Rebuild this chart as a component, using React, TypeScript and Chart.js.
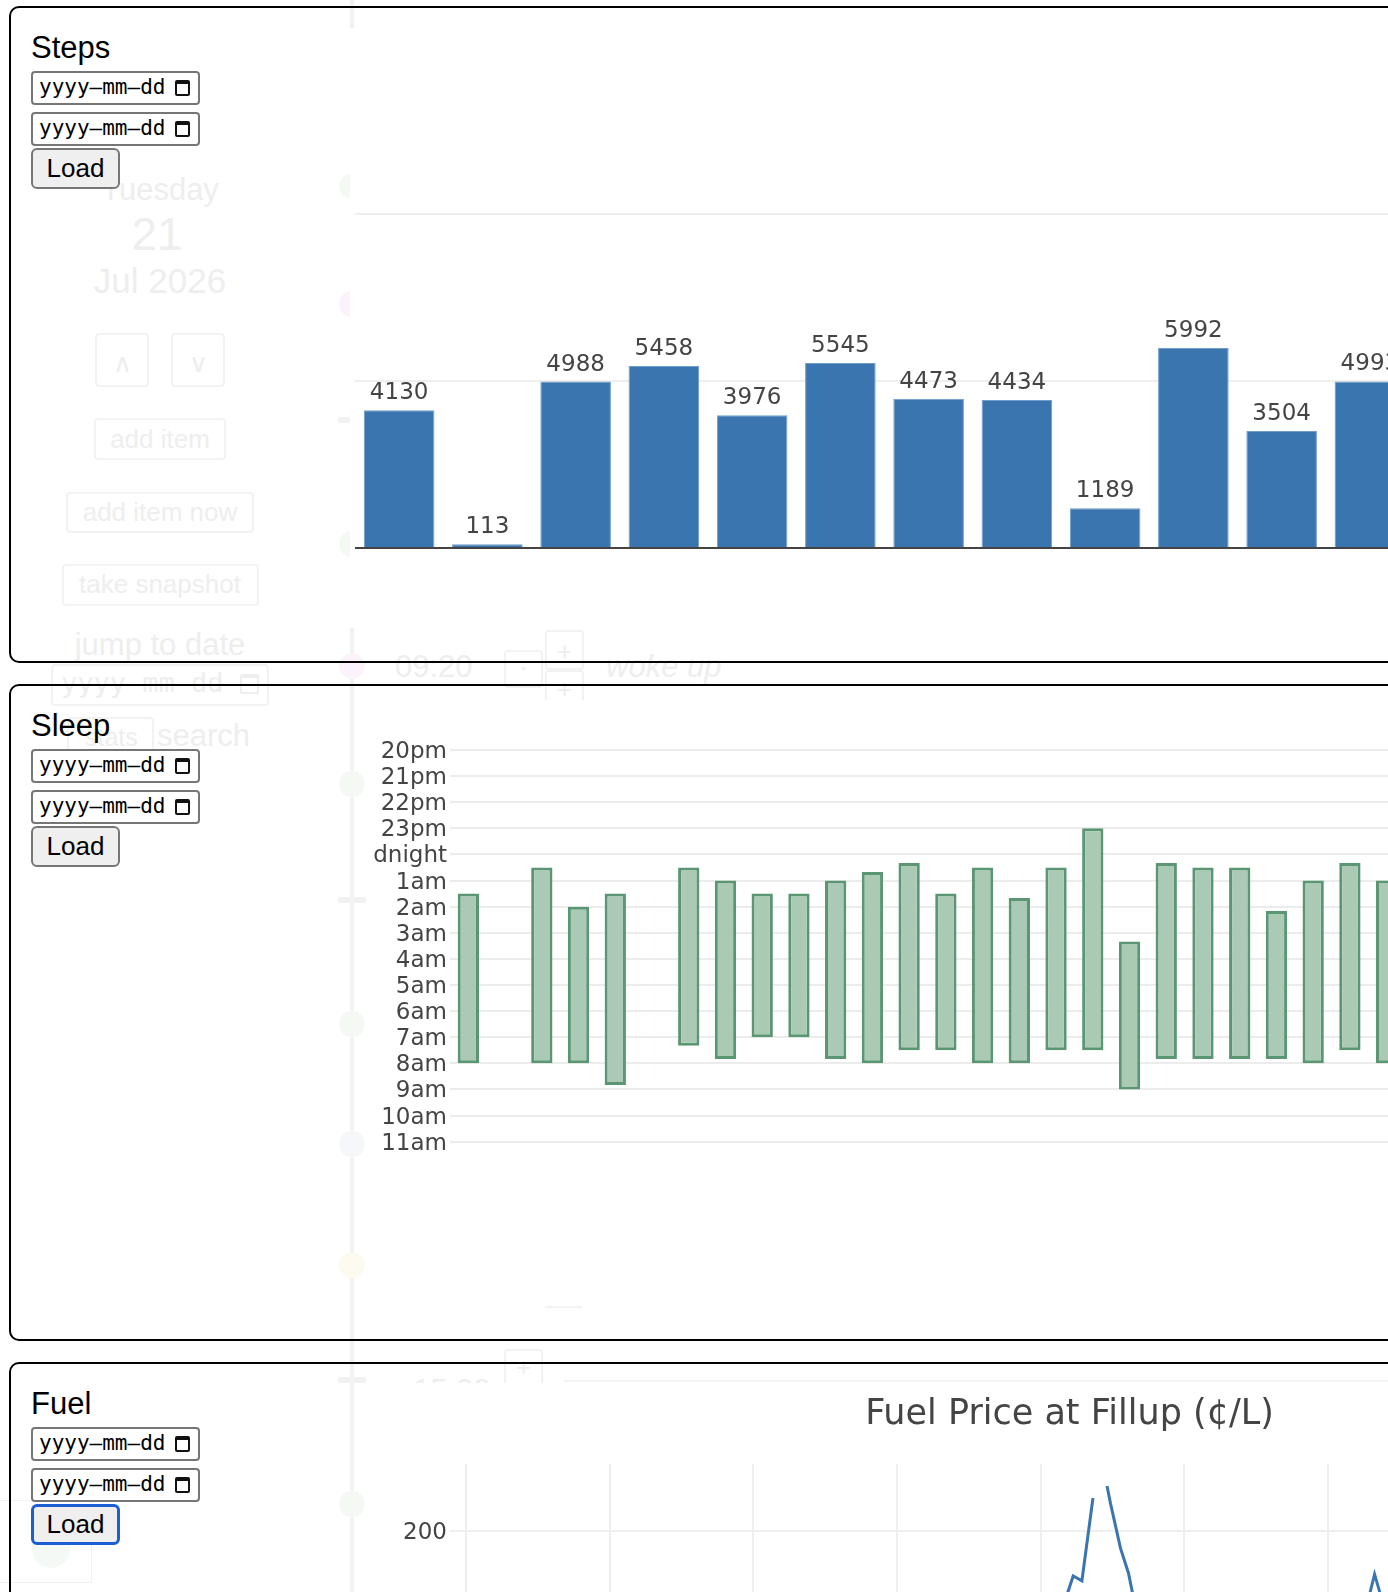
import React, { useEffect, useRef } from "react";
import { Chart, registerables } from "chart.js";

Chart.register(...registerables);

// ---- Steps: daily step counts ----
const STEP_DAYS = [
  "Jul 10", "Jul 11", "Jul 12", "Jul 13", "Jul 14", "Jul 15",
  "Jul 16", "Jul 17", "Jul 18", "Jul 19", "Jul 20", "Jul 21",
];
const STEP_COUNTS = [4130, 113, 4988, 5458, 3976, 5545, 4473, 4434, 1189, 5992, 3504, 4993];
const STEP_GRID = [0, 5000, 10000];

// ---- Sleep: bedtime / wake time in hours from midnight (negative = evening before) ----
const SLEEP_NIGHTS = [
  "Jun 26", "Jun 27", "Jun 28", "Jun 29", "Jun 30", "Jul 01", "Jul 02",
  "Jul 03", "Jul 04", "Jul 05", "Jul 06", "Jul 07", "Jul 08", "Jul 09",
  "Jul 10", "Jul 11", "Jul 12", "Jul 13", "Jul 14", "Jul 15", "Jul 16",
  "Jul 17", "Jul 18", "Jul 19", "Jul 20", "Jul 21",
];
const SLEEP_START = [
  1.5, null, 0.5, 2, 1.5, null, 0.5, 1, 1.5, 1.5, 1, 0.67, 0.33,
  1.5, 0.5, 1.67, 0.5, -1, 3.33, 0.33, 0.5, 0.5, 2.17, 1, 0.33, 1,
];
const SLEEP_END = [
  8, null, 8, 8, 8.83, null, 7.33, 7.83, 7, 7, 7.83, 8, 7.5,
  7.5, 8, 8, 7.5, 7.5, 9, 7.83, 7.83, 7.83, 7.83, 8, 7.5, 8,
];
const SLEEP_HOUR_LABELS = [
  "20pm", "21pm", "22pm", "23pm", "midnight", "1am", "2am", "3am",
  "4am", "5am", "6am", "7am", "8am", "9am", "10am", "11am",
];

// ---- Fuel: price per litre at each fill-up (decimal year, cents) ----
const FUEL_TITLE = "Fuel Price at Fillup (¢/L)";
const FUEL_DATES = [
  2017.95, 2018.2, 2018.45, 2018.7, 2018.95, 2019.2, 2019.4, 2019.65, 2019.9,
  2020.15, 2020.35, 2020.6, 2020.85, 2021.1, 2021.35, 2021.6, 2021.85,
  2022.056, 2022.226, 2022.287, 2022.364, 2022.41, 2022.462, 2022.486,
  2022.556, 2022.611, 2022.739, 2022.9, 2023.1, 2023.35, 2023.6, 2023.85,
  2024.05, 2024.173, 2024.325, 2024.54, 2024.75, 2024.95,
];
const FUEL_PRICES = [
  119.9, 127.4, 137.9, 134.5, 112.9, 124.9, 139.9, 128.9, 125.4,
  118.9, 89.9, 104.9, 109.9, 124.5, 137.9, 148.9, 156.9,
  180.0, 192.5, 191.7, 205.5, null, 207.5, 204.6,
  197.1, 193.0, 178.0, 165.9, 158.9, 168.4, 174.9, 160.9,
  156.9, 178.0, 192.8, 175.0, 163.9, 154.9,
];
const FUEL_GRID_PRICES = [140, 160, 180, 200];
const FUEL_GRID_YEARS = [2018, 2019, 2020, 2021, 2022, 2023, 2024, 2025];

const AXIS_FONT = "'DejaVu Sans', Verdana, sans-serif";
const UI_FONT = "'Liberation Sans', Arial, Helvetica, sans-serif";
const MONO_FONT = "'DejaVu Sans Mono', Menlo, monospace";
const FAINT = "#eeeeee";
const FAINT_LINE = "#f2f2f2";

// value labels drawn above each bar
const barValueLabels = {
  id: "barValueLabels",
  afterDatasetsDraw(chart: any) {
    const ctx = chart.ctx;
    const meta = chart.getDatasetMeta(0);
    const values = chart.data.datasets[0].data;
    ctx.save();
    ctx.font = `23px ${AXIS_FONT}`;
    ctx.fillStyle = "#444";
    ctx.textAlign = "center";
    ctx.textBaseline = "alphabetic";
    meta.data.forEach((bar: any, i: number) => {
      ctx.fillText(String(values[i]), bar.x, bar.y - 11);
    });
    ctx.restore();
  },
};

const fuelTitle = {
  id: "fuelTitle",
  afterDraw(chart: any) {
    const ctx = chart.ctx;
    ctx.save();
    ctx.font = `35px ${AXIS_FONT}`;
    ctx.fillStyle = "#444";
    ctx.textAlign = "center";
    ctx.textBaseline = "alphabetic";
    ctx.fillText(FUEL_TITLE, chart.width / 2, 41);
    ctx.restore();
  },
};

function ChartBox({ left, top, width, height, config }: any) {
  const ref = useRef<HTMLCanvasElement | null>(null);
  useEffect(() => {
    const chart = new Chart(ref.current as HTMLCanvasElement, config());
    return () => chart.destroy();
  }, []);
  return (
    <div style={{ position: "absolute", left, top, width, height, background: "#fff" }}>
      <canvas ref={ref} width={width} height={height} style={{ display: "block", width, height }} />
    </div>
  );
}

function stepsConfig(): any {
  return {
    type: "bar",
    data: {
      labels: STEP_DAYS,
      datasets: [
        {
          data: STEP_COUNTS,
          backgroundColor: "#3b75af",
          borderColor: "#6f9cc8",
          borderWidth: 1,
          categoryPercentage: 0.8,
          barPercentage: 1,
        },
      ],
    },
    options: {
      animation: false,
      responsive: false,
      events: [],
      layout: { padding: { left: 5, right: 0, top: 53, bottom: 80 } },
      plugins: { legend: { display: false }, tooltip: { enabled: false } },
      scales: {
        x: { display: false },
        y: {
          min: 0,
          max: 14000,
          afterFit: (s: any) => { s.width = 0; },
          afterBuildTicks: (s: any) => { s.ticks = STEP_GRID.map((v) => ({ value: v })); },
          ticks: { display: false },
          border: { display: false },
          grid: {
            drawTicks: false,
            lineWidth: 2,
            color: (c: any) => (c.tick && c.tick.value === 0 ? "#444" : "#eeeeee"),
          },
        },
      },
    },
    plugins: [barValueLabels],
  };
}

function sleepConfig(): any {
  return {
    type: "bar",
    data: {
      labels: SLEEP_NIGHTS,
      datasets: [
        {
          data: SLEEP_START.map((s, i) => (s === null ? null : [s, SLEEP_END[i]])),
          backgroundColor: "#abcab6",
          borderColor: "#5a9672",
          borderWidth: 3,
          borderSkipped: false,
          categoryPercentage: 1,
          barPercentage: 0.58,
        },
      ],
    },
    options: {
      animation: false,
      responsive: false,
      events: [],
      layout: { padding: { left: 0, right: 0, top: 50, bottom: 58.3 } },
      plugins: { legend: { display: false }, tooltip: { enabled: false } },
      scales: {
        x: { display: false },
        y: {
          reverse: true,
          min: -4,
          max: 11,
          afterFit: (s: any) => { s.width = 78; },
          ticks: {
            stepSize: 1,
            autoSkip: false,
            padding: 3,
            labelOffset: 2,
            color: "#444",
            font: { family: AXIS_FONT, size: 23 },
            callback: (v: any) => SLEEP_HOUR_LABELS[Math.round(v) + 4],
          },
          border: { display: false },
          grid: { drawTicks: false, lineWidth: 2, color: "#ececec" },
        },
      },
    },
  };
}

function fuelConfig(): any {
  return {
    type: "line",
    data: {
      datasets: [
        {
          data: FUEL_DATES.map((x, i) => ({ x, y: FUEL_PRICES[i] })),
          borderColor: "#3b75af",
          borderWidth: 3,
          pointRadius: 0,
          tension: 0,
          spanGaps: false,
          fill: false,
        },
      ],
    },
    options: {
      animation: false,
      responsive: false,
      events: [],
      layout: { padding: { left: 0, right: 160, top: 81, bottom: 99 } },
      plugins: { legend: { display: false }, tooltip: { enabled: false } },
      scales: {
        x: {
          type: "linear",
          min: 2017.8865,
          max: 2025.9436,
          afterFit: (s: any) => { s.height = 0; },
          afterBuildTicks: (s: any) => { s.ticks = FUEL_GRID_YEARS.map((v) => ({ value: v })); },
          ticks: { display: false },
          border: { display: false },
          grid: { drawTicks: false, lineWidth: 2, color: "#eeeeee" },
        },
        y: {
          min: 121.1667,
          max: 211.1667,
          afterFit: (s: any) => { s.width = 78; },
          afterBuildTicks: (s: any) => { s.ticks = FUEL_GRID_PRICES.map((v) => ({ value: v })); },
          ticks: { padding: 3, labelOffset: 2, color: "#444", font: { family: AXIS_FONT, size: 23 } },
          border: { display: false },
          grid: { drawTicks: false, lineWidth: 2, color: "#eeeeee" },
        },
      },
    },
    plugins: [fuelTitle],
  };
}

// text placed by its baseline; the factor is the ascent share of a 1em line box
function Text({ x, baseline, size, children, color = "#000", font = UI_FONT, center = false, width = 300, italic = false }: any) {
  const top = baseline - size * 0.8465;
  const style: any = {
    position: "absolute",
    top,
    fontFamily: font,
    fontSize: size,
    lineHeight: `${size}px`,
    color,
    whiteSpace: "pre",
    fontStyle: italic ? "italic" : "normal",
  };
  if (center) {
    style.left = x - width / 2;
    style.width = width;
    style.textAlign = "center";
  } else {
    style.left = x;
  }
  return <div style={style}>{children}</div>;
}

function Box({ l, t, w, h, border = FAINT_LINE, bg = "transparent", radius = 4, bw = 2 }: any) {
  return (
    <div
      style={{
        position: "absolute", left: l, top: t, width: w, height: h,
        border: `${bw}px solid ${border}`, borderRadius: radius, background: bg, boxSizing: "border-box",
      }}
    />
  );
}

function Dot({ x, y, r, color }: any) {
  return <div style={{ position: "absolute", left: x - r, top: y - r, width: 2 * r, height: 2 * r, borderRadius: "50%", background: color }} />;
}

function CalendarIcon({ l, t, w = 15, h = 16, color = "#111" }: any) {
  return (
    <div
      style={{
        position: "absolute", left: l, top: t, width: w, height: h, boxSizing: "border-box",
        border: `2px solid ${color}`, borderTopWidth: 4, borderRadius: 2,
      }}
    />
  );
}

// the dimmed day view that sits behind the panels
function Backdrop() {
  return (
    <>
      <div style={{ position: "absolute", left: 350, top: 0, width: 4, height: 1600, background: FAINT_LINE }} />
      <Box l={338} t={417} w={28} h={6} border="transparent" bg={FAINT_LINE} radius={0} bw={0} />
      <Box l={338} t={897} w={28} h={6} border="transparent" bg={FAINT_LINE} radius={0} bw={0} />
      <Box l={338} t={1377} w={28} h={6} border="transparent" bg={FAINT_LINE} radius={0} bw={0} />
      <Dot x={351.5} y={186} r={13} color="#f4f9f4" />
      <Dot x={351.5} y={304} r={13} color="#fbf2fb" />
      <Dot x={351.5} y={544} r={13} color="#f4f9f4" />
      <Dot x={351.5} y={666} r={13} color="#fbf2fb" />
      <Dot x={351.5} y={784} r={13} color="#f4f9f4" />
      <Dot x={351.5} y={1024} r={13} color="#f4f9f4" />
      <Dot x={351.5} y={1144} r={13} color="#f6f7fb" />
      <Dot x={351.5} y={1265} r={13} color="#fdfbef" />
      <Dot x={351.5} y={1504} r={13} color="#f4f9f4" />

      <Text x={160} baseline={200} size={31} color={FAINT} center>Tuesday</Text>
      <Text x={157} baseline={250} size={46} color={FAINT} center>21</Text>
      <Text x={160} baseline={293} size={35} color={FAINT} center>Jul 2026</Text>

      <Box l={95} t={333} w={54} h={54} />
      <Text x={122} baseline={372} size={26} color={FAINT} center width={54}>∧</Text>
      <Box l={171} t={333} w={54} h={54} />
      <Text x={198} baseline={372} size={26} color={FAINT} center width={54}>∨</Text>

      <Box l={94} t={418} w={132} h={42} />
      <Text x={160} baseline={448} size={26} color={FAINT} center>add item</Text>
      <Box l={66} t={492} w={188} h={41} />
      <Text x={160} baseline={521} size={26} color={FAINT} center>add item now</Text>
      <Box l={62} t={564} w={197} h={42} />
      <Text x={160} baseline={593} size={26} color={FAINT} center>take snapshot</Text>

      <Text x={160} baseline={655} size={31} color={FAINT} center>jump to date</Text>
      <Box l={51} t={664} w={218} h={42} />
      <Text x={61} baseline={692} size={27} color={FAINT} font={MONO_FONT}>yyyy–mm–dd</Text>
      <CalendarIcon l={240} t={674} w={19} h={20} color={FAINT} />

      <Box l={67} t={717} w={87} h={39} />
      <Text x={85} baseline={746} size={25} color={FAINT}>stats</Text>
      <Text x={157} baseline={746} size={31} color={FAINT}>search</Text>

      <Text x={395} baseline={677} size={31} color={FAINT}>09:20</Text>
      <Box l={504} t={650} w={39} h={38} />
      <Text x={523.5} baseline={676} size={26} color={FAINT} center width={39}>·</Text>
      <Box l={545} t={630} w={39} h={40} />
      <Text x={564.5} baseline={660} size={26} color={FAINT} center width={39}>+</Text>
      <Box l={545} t={670} w={39} h={36} />
      <Text x={564.5} baseline={698} size={26} color={FAINT} center width={39}>+</Text>
      <Text x={606} baseline={677} size={31} color={FAINT} italic>woke up</Text>

      <Box l={545} t={1306} w={37} h={2} border="transparent" bg={FAINT_LINE} radius={0} bw={0} />
      <Text x={413} baseline={1401} size={31} color={FAINT}>15:00</Text>
      <Box l={504} t={1349} w={39} h={40} />
      <Text x={523.5} baseline={1376} size={26} color={FAINT} center width={39}>+</Text>
      <Box l={564} t={1380} w={900} h={2} border="transparent" bg={FAINT_LINE} radius={0} bw={0} />

      <Box l={-10} t={1500} w={102} h={83} bw={1} radius={0} />
      <Dot x={51} y={1549} r={19} color="#f5f9f5" />
    </>
  );
}

function Panel({ top }: any) {
  return (
    <div
      style={{
        position: "absolute", left: 9, top, width: 1600, height: 657,
        border: "2px solid #000", borderRadius: 10, boxSizing: "border-box",
      }}
    />
  );
}

function DateField({ top }: any) {
  return (
    <div
      style={{
        position: "absolute", left: 31, top, width: 169, height: 34,
        border: "2px solid #767676", borderRadius: 4, background: "#fff", boxSizing: "border-box",
      }}
    >
      <Text x={6} baseline={22} size={21} font={MONO_FONT}>yyyy–mm–dd</Text>
      <CalendarIcon l={142} t={7} />
    </div>
  );
}

function LoadButton({ top, focused }: any) {
  return (
    <div
      style={{
        position: "absolute", left: 31, top, width: 89, height: 41,
        border: focused ? "3px solid #1c5fd2" : "2px solid #767676",
        borderRadius: 6, background: "#efefef", boxSizing: "border-box",
      }}
    >
      <Text x={focused ? 41.5 : 42.5} baseline={focused ? 25.7 : 26.7} size={26} center width={89}>Load</Text>
    </div>
  );
}

function Controls({ dy, title, focused = false }: any) {
  return (
    <>
      <Text x={31} baseline={58 + dy} size={31}>{title}</Text>
      <DateField top={71 + dy} />
      <DateField top={112 + dy} />
      <LoadButton top={148 + dy} focused={focused} />
    </>
  );
}

export default function App() {
  return (
    <div
      style={{
        position: "fixed", inset: 0, overflow: "hidden", background: "#fff", fontFamily: UI_FONT,
      }}
    >
      <Backdrop />
      <Panel top={6} />
      <Panel top={684} />
      <Panel top={1362} />
      <Controls dy={0} title="Steps" />
      <Controls dy={678} title="Sleep" />
      <Controls dy={1356} title="Fuel" focused />
      <ChartBox left={350} top={28} width={1064} height={600} config={stepsConfig} />
      <ChartBox left={372} top={700} width={1033} height={500} config={sleepConfig} />
      <ChartBox left={372} top={1383} width={1395} height={720} config={fuelConfig} />
    </div>
  );
}
